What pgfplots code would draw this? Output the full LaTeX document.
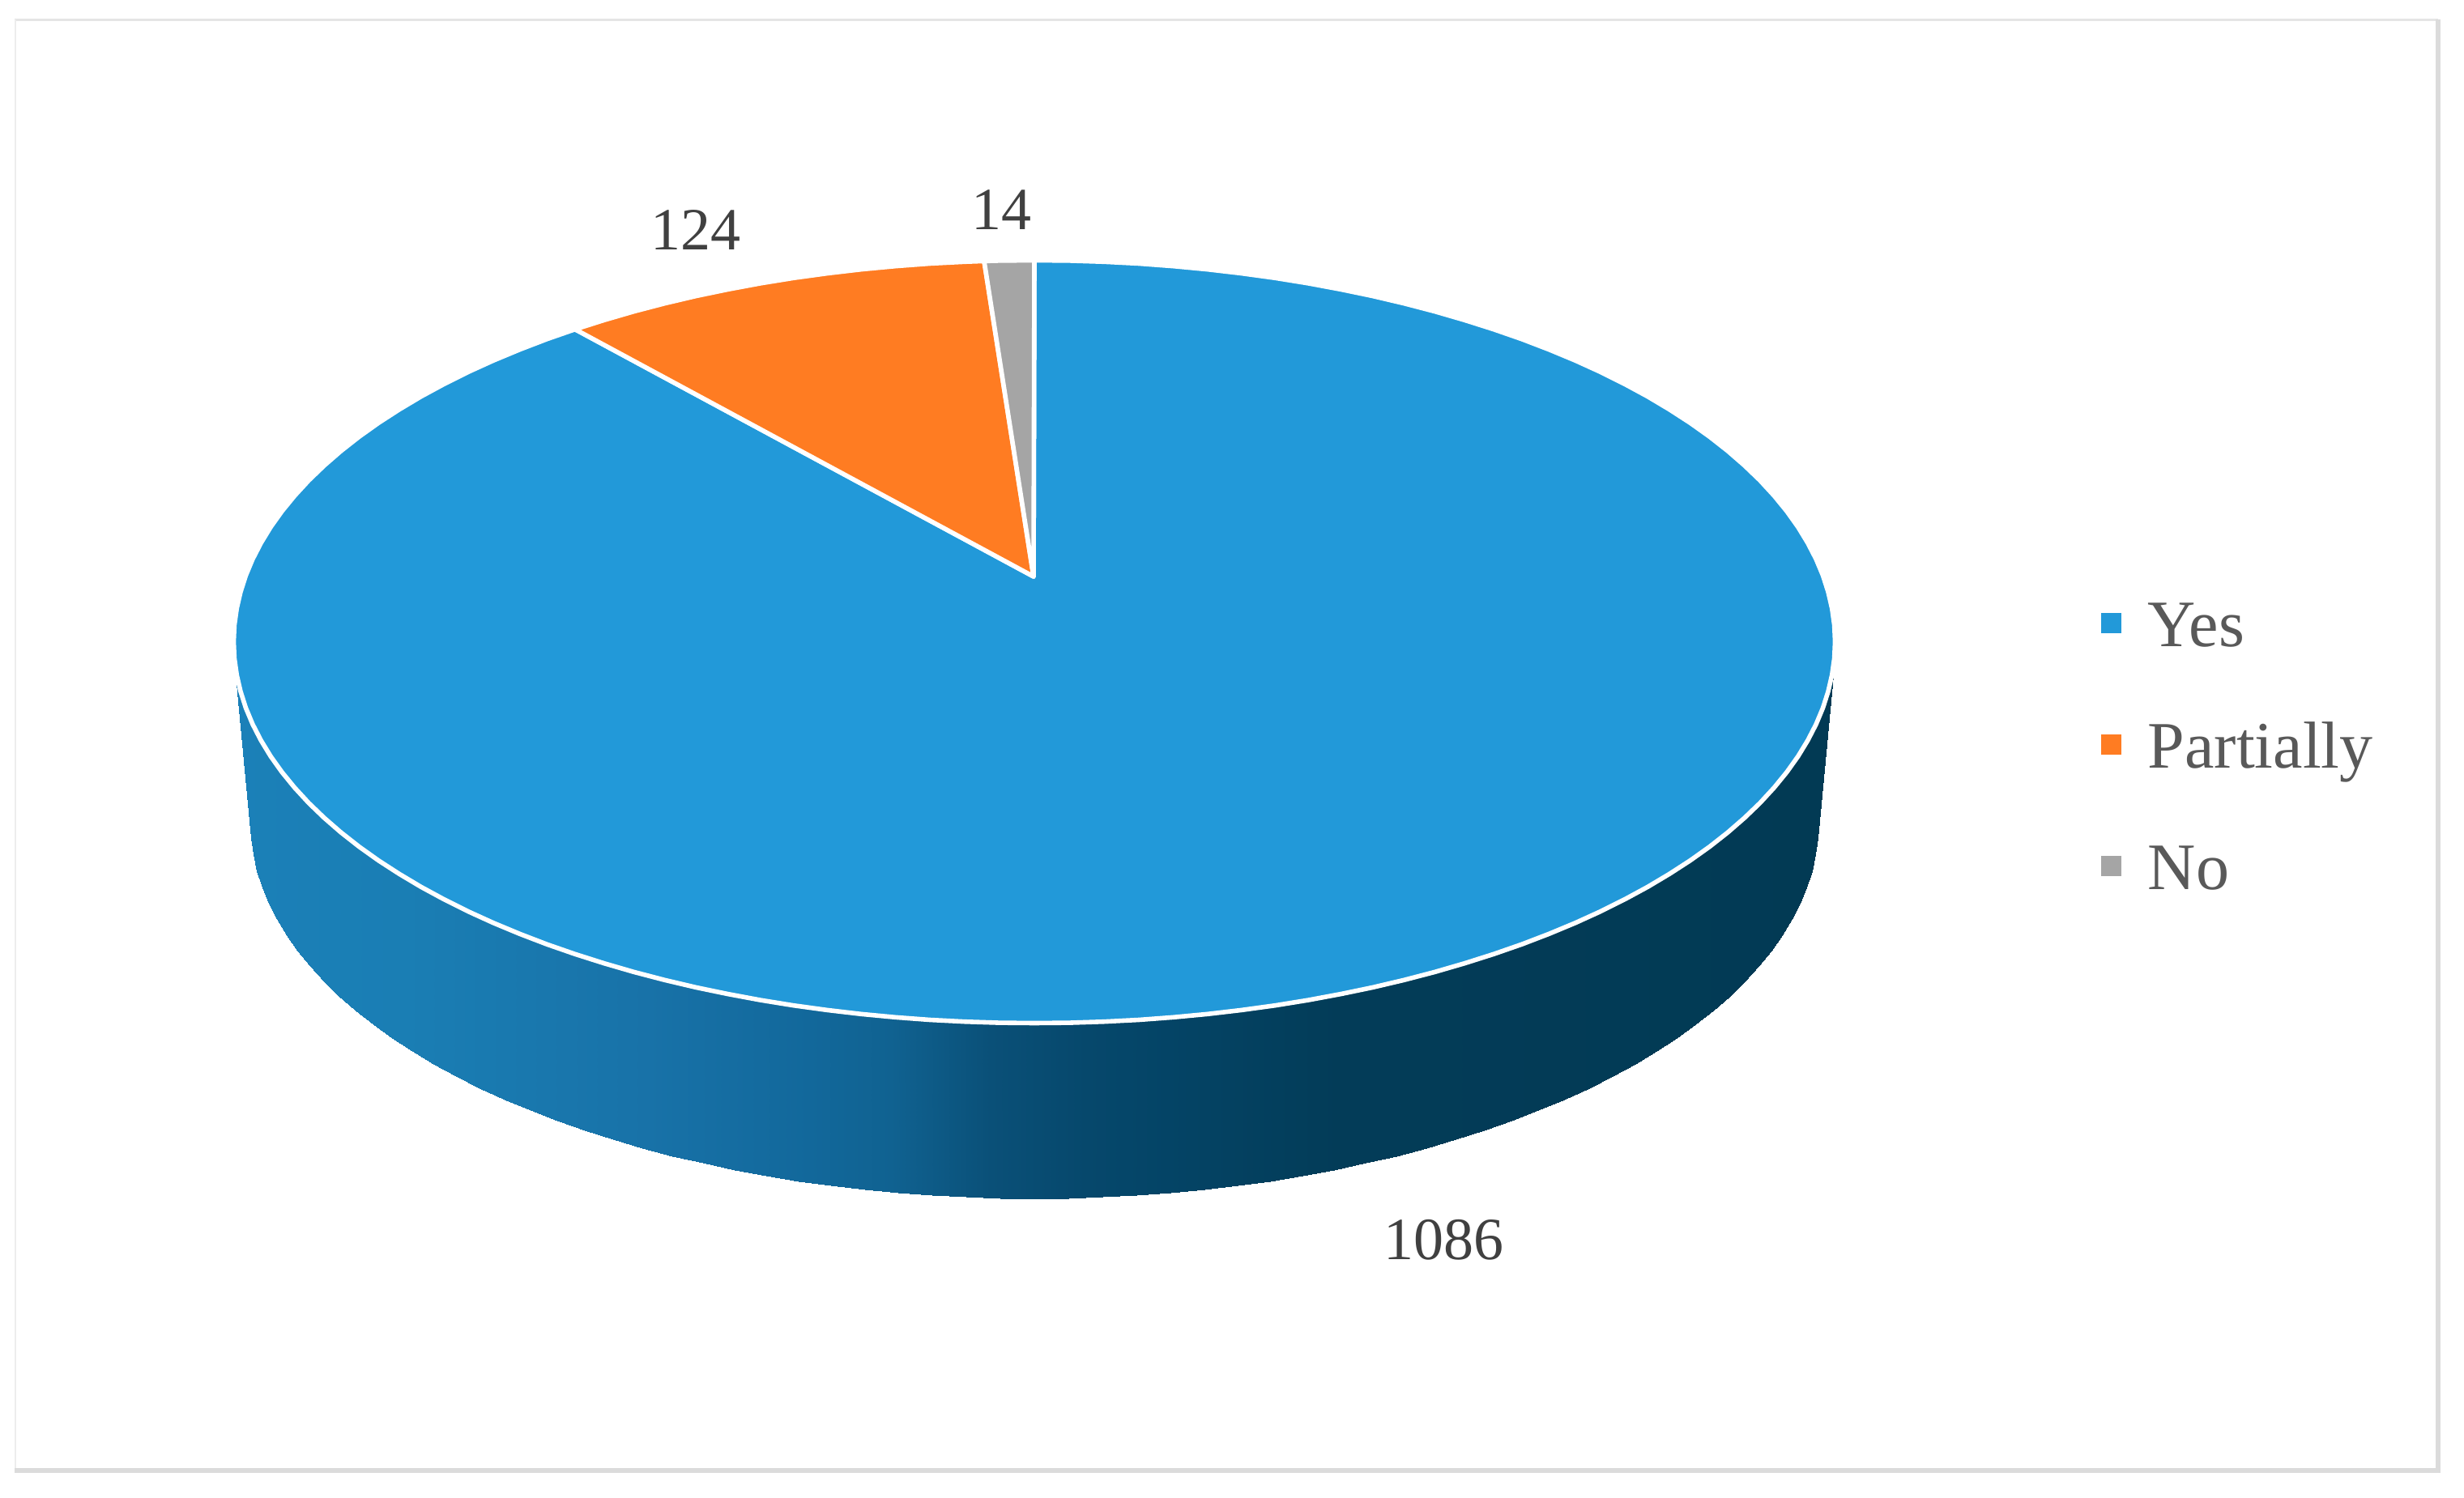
\documentclass[border=0pt]{standalone}
\usepackage{pgfplots}
\pgfplotsset{compat=1.18}
\usepackage{fontspec}
\setmainfont{Liberation Serif}
\definecolor{pieblue}{RGB}{34,153,217}
\definecolor{pieorange}{RGB}{255,124,34}
\definecolor{piegrey}{RGB}{165,165,165}
\definecolor{legtext}{RGB}{89,89,89}
\definecolor{labtext}{RGB}{64,64,64}
\begin{document}
\begin{tikzpicture}
\path[use as bounding box] (0,0) rectangle (760.5pt,462.5pt);
\begin{axis}[
  scale only axis, width=760.5pt, height=462.5pt,
  at={(0,0)}, anchor=south west,
  xmin=0, xmax=3042, ymin=0, ymax=1850, y dir=reverse,
  axis lines=none, clip=false,
  colormap={side}{rgb255(290)=(27,128,184) rgb255(500)=(26,126,180) rgb255(800)=(24,114,168)
    rgb255(1000)=(18,104,155) rgb255(1100)=(16,98,145) rgb255(1222)=(10,80,120)
    rgb255(1340)=(6,72,108) rgb255(1440)=(4,68,102) rgb255(1651)=(3,60,88) rgb255(2263)=(2,58,84)},
  legend cell align=left,
  legend image code/.code={\path[#1,draw=none] (0pt,-1pt) rectangle (6.25pt,5.25pt);},
  legend style={at={(axis cs:2594,742)}, anchor=north west, draw=none, fill=none, inner sep=0pt, outer sep=0pt,
    row sep=19.5pt, font=\fontsize{20.5}{22}\selectfont, text=legtext,
    nodes={inner sep=0pt, text height=14pt, text depth=4pt},
    /tikz/every odd column/.append style={column sep=8.2pt}},
]
% side wall of the disc
\addplot[patch, patch type=rectangle, shader=interp, point meta=x, forget plot,
  point meta min=288.5, point meta max=2265.5,
  table/row sep=\\,
  patch table={
   0 2 3 1\\ 2 4 5 3\\ 4 6 7 5\\ 6 8 9 7\\ 8 10 11 9\\ 10 12 13 11\\
   12 14 15 13\\ 14 16 17 15\\ 16 18 19 17\\ 18 20 21 19\\ 20 22 23 21\\ 22 24 25 23\\
   24 26 27 25\\ 26 28 29 27\\ 28 30 31 29\\ 30 32 33 31\\ 32 34 35 33\\ 34 36 37 35\\
   36 38 39 37\\ 38 40 41 39\\ 40 42 43 41\\ 42 44 45 43\\ 44 46 47 45\\ 46 48 49 47\\
   48 50 51 49\\ 50 52 53 51\\ 52 54 55 53\\ 54 56 57 55\\ 56 58 59 57\\ 58 60 61 59\\
   60 62 63 61\\ 62 64 65 63\\ 64 66 67 65\\ 66 68 69 67\\ 68 70 71 69\\ 70 72 73 71\\
   72 74 75 73\\ 74 76 77 75\\ 76 78 79 77\\ 78 80 81 79\\ 80 82 83 81\\ 82 84 85 83\\
   84 86 87 85\\ 86 88 89 87\\ 88 90 91 89\\ 90 92 93 91\\ 92 94 95 93\\ 94 96 97 95\\
   96 98 99 97\\ 98 100 101 99\\ 100 102 103 101\\ 102 104 105 103\\ 104 106 107 105\\ 106 108 109 107\\
   108 110 111 109\\ 110 112 113 111\\ 112 114 115 113\\ 114 116 117 115\\ 116 118 119 117\\ 118 120 121 119\\
   120 122 123 121\\ 122 124 125 123\\ 124 126 127 125\\ 126 128 129 127\\ 128 130 131 129\\ 130 132 133 131\\
   132 134 135 133\\ 134 136 137 135\\ 136 138 139 137\\ 138 140 141 139\\ 140 142 143 141\\ 142 144 145 143\\
  }] table {
x y\\
288.5 792.5\\ 309 1015\\
289.4 813\\ 309.9 1035.3\\
292.3 833.6\\ 312.7 1055.5\\
297 854\\ 317.3 1075.7\\
303.5 874.3\\ 323.7 1095.7\\
311.9 894.4\\ 331.9 1115.6\\
322.2 914.4\\ 342 1135.4\\
334.2 934.1\\ 353.8 1154.8\\
348.1 953.6\\ 367.4 1174\\
363.7 972.7\\ 382.7 1192.9\\
381.1 991.6\\ 399.7 1211.5\\
400.2 1010\\ 418.4 1229.7\\
420.9 1028\\ 438.7 1247.5\\
443.3 1045.6\\ 460.6 1264.8\\
467.3 1062.7\\ 484.1 1281.7\\
492.8 1079.2\\ 509 1298.1\\
519.8 1095.3\\ 535.5 1313.9\\
548.2 1110.7\\ 563.3 1329.2\\
578 1125.6\\ 592.5 1343.8\\
609.2 1139.8\\ 623 1357.8\\
641.6 1153.3\\ 654.8 1371.2\\
675.2 1166.2\\ 687.7 1383.9\\
710 1178.3\\ 721.8 1395.9\\
745.9 1189.7\\ 756.9 1407.2\\
782.7 1200.4\\ 793 1417.7\\
820.6 1210.3\\ 830 1427.5\\
859.2 1219.4\\ 867.9 1436.4\\
898.7 1227.6\\ 906.6 1444.6\\
938.9 1235.1\\ 945.9 1452\\
979.7 1241.7\\ 985.9 1458.5\\
1021.2 1247.4\\ 1026.5 1464.2\\
1063 1252.3\\ 1067.5 1469\\
1105.3 1256.3\\ 1108.9 1472.9\\
1148 1259.5\\ 1150.6 1476\\
1190.8 1261.7\\ 1192.6 1478.2\\
1233.9 1263.1\\ 1234.8 1479.6\\
1277 1263.5\\ 1277 1480\\
1320.1 1263.1\\ 1319.2 1479.6\\
1363.2 1261.7\\ 1361.4 1478.2\\
1406 1259.5\\ 1403.4 1476\\
1448.7 1256.3\\ 1445.1 1472.9\\
1491 1252.3\\ 1486.5 1469\\
1532.8 1247.4\\ 1527.5 1464.2\\
1574.3 1241.7\\ 1568.1 1458.5\\
1615.1 1235.1\\ 1608.1 1452\\
1655.3 1227.6\\ 1647.4 1444.6\\
1694.8 1219.4\\ 1686.1 1436.4\\
1733.4 1210.3\\ 1724 1427.5\\
1771.3 1200.4\\ 1761 1417.7\\
1808.1 1189.7\\ 1797.1 1407.2\\
1844 1178.3\\ 1832.2 1395.9\\
1878.8 1166.2\\ 1866.3 1383.9\\
1912.4 1153.3\\ 1899.2 1371.2\\
1944.8 1139.8\\ 1931 1357.8\\
1976 1125.6\\ 1961.5 1343.8\\
2005.8 1110.7\\ 1990.7 1329.2\\
2034.2 1095.3\\ 2018.5 1313.9\\
2061.2 1079.2\\ 2045 1298.1\\
2086.7 1062.7\\ 2069.9 1281.7\\
2110.7 1045.6\\ 2093.4 1264.8\\
2133.1 1028\\ 2115.3 1247.5\\
2153.8 1010\\ 2135.6 1229.7\\
2172.9 991.6\\ 2154.3 1211.5\\
2190.3 972.7\\ 2171.3 1192.9\\
2205.9 953.6\\ 2186.6 1174\\
2219.8 934.1\\ 2200.2 1154.8\\
2231.8 914.4\\ 2212 1135.4\\
2242.1 894.4\\ 2222.1 1115.6\\
2250.5 874.3\\ 2230.3 1095.7\\
2257 854\\ 2236.7 1075.7\\
2261.7 833.6\\ 2241.3 1055.5\\
2264.6 813\\ 2244.1 1035.3\\
2265.5 792.5\\ 2245 1015\\
};
% Yes: 1086
\addplot[fill=pieblue, draw=white, line width=1.4pt, line join=round] coordinates {
(1276,712) (1277,321.5) (1320.1,321.9) (1363.2,323.3) (1406,325.5) (1448.7,328.7) (1491,332.7) (1532.8,337.6)
(1574.3,343.3) (1615.1,349.9) (1655.3,357.4) (1694.8,365.6) (1733.4,374.7) (1771.3,384.6) (1808.1,395.3)
(1844,406.7) (1878.8,418.8) (1912.4,431.7) (1944.8,445.2) (1976,459.4) (2005.8,474.3) (2034.2,489.7)
(2061.2,505.8) (2086.7,522.3) (2110.7,539.4) (2133.1,557) (2153.8,575) (2172.9,593.4) (2190.3,612.3)
(2205.9,631.4) (2219.8,650.9) (2231.8,670.6) (2242.1,690.6) (2250.5,710.7) (2257,731) (2261.7,751.4)
(2264.6,772) (2265.5,792.5)
(2264.6,813) (2261.7,833.6) (2257,854) (2250.5,874.3) (2242.1,894.4) (2231.8,914.4) (2219.8,934.1)
(2205.9,953.6) (2190.3,972.7) (2172.9,991.6) (2153.8,1010) (2133.1,1028) (2110.7,1045.6) (2086.7,1062.7)
(2061.2,1079.2) (2034.2,1095.3) (2005.8,1110.7) (1976,1125.6) (1944.8,1139.8) (1912.4,1153.3) (1878.8,1166.2)
(1844,1178.3) (1808.1,1189.7) (1771.3,1200.4) (1733.4,1210.3) (1694.8,1219.4) (1655.3,1227.6) (1615.1,1235.1)
(1574.3,1241.7) (1532.8,1247.4) (1491,1252.3) (1448.7,1256.3) (1406,1259.5) (1363.2,1261.7) (1320.1,1263.1) (1277,1263.5)
(1233.9,1263.1) (1190.8,1261.7) (1148,1259.5) (1105.3,1256.3) (1063,1252.3) (1021.2,1247.4) (979.7,1241.7)
(938.9,1235.1) (898.7,1227.6) (859.2,1219.4) (820.6,1210.3) (782.7,1200.4) (745.9,1189.7) (710,1178.3)
(675.2,1166.2) (641.6,1153.3) (609.2,1139.8) (578,1125.6) (548.2,1110.7) (519.8,1095.3) (492.8,1079.2)
(467.3,1062.7) (443.3,1045.6) (420.9,1028) (400.2,1010) (381.1,991.6) (363.7,972.7) (348.1,953.6)
(334.2,934.1) (322.2,914.4) (311.9,894.4) (303.5,874.3) (297,854) (292.3,833.6) (289.4,813) (288.5,792.5)
(289.4,772) (292.3,751.4) (297,731) (303.5,710.7) (311.9,690.6) (322.2,670.6) (334.2,650.9) (348.1,631.4)
(363.7,612.3) (381.1,593.4) (400.2,575) (420.9,557) (443.3,539.4) (467.3,522.3) (492.8,505.8) (519.8,489.7)
(548.2,474.3) (578,459.4) (609.2,445.2) (641.6,431.7) (675.2,418.8) (710,406.7)
} -- cycle;
\addlegendentry{Yes}
% Partially: 124
\addplot[fill=pieorange, draw=white, line width=1.4pt, line join=round] coordinates {
(1276,712) (710,406.7) (745.9,395.3) (782.7,384.6) (820.6,374.7) (859.2,365.6) (898.7,357.4) (938.9,349.9)
(979.7,343.3) (1021.2,337.6) (1063,332.7) (1105.3,328.7) (1148,325.5) (1190.8,323.3) (1215,322.4)
} -- cycle;
\addlegendentry{Partially}
% No: 14
\addplot[fill=piegrey, draw=white, line width=1.4pt, line join=round] coordinates {
(1276,712) (1215,322.4) (1233.9,321.9) (1277,321.5)
} -- cycle;
\addlegendentry{No}
% frame
\addplot[forget plot, color=black!10, line width=0.75pt] coordinates {(18,24.5) (3010,24.5)};
\addplot[forget plot, color=black!7, line width=0.6pt] coordinates {(19,24) (19,1816)};
\addplot[forget plot, color=black!14, line width=1.6pt] coordinates {(3010,24) (3010,1819)};
\addplot[forget plot, color=black!14, line width=1.5pt] coordinates {(18,1816) (3013,1816)};
% data labels
\node[anchor=base, text=labtext, font=\fontsize{18.5}{22}\selectfont] at (axis cs:1782,1555) {1086};
\node[anchor=base, text=labtext, font=\fontsize{18.5}{22}\selectfont] at (axis cs:859,309) {124};
\node[anchor=base, text=labtext, font=\fontsize{18.5}{22}\selectfont] at (axis cs:1236,284) {14};
\end{axis}
\end{tikzpicture}
\end{document}
